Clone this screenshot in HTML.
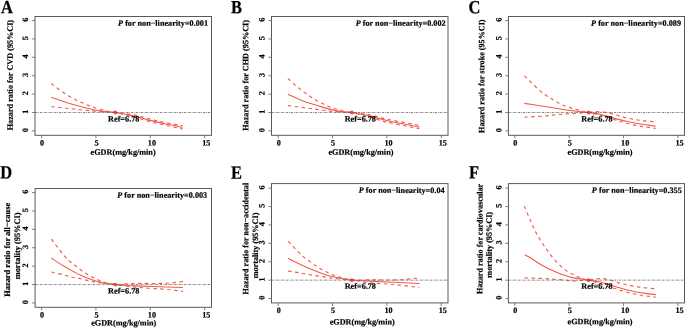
<!DOCTYPE html><html><head><meta charset="utf-8"><style>html,body{margin:0;padding:0;background:#fff}svg{display:block}text{text-rendering:geometricPrecision;font-family:"Liberation Serif", serif;font-weight:bold;fill:#000;stroke:#000;stroke-width:0.2px}</style></head><body>
<svg width="685" height="328" viewBox="0 0 685 328">
<defs><filter id="b" x="0" y="0" width="685" height="328" filterUnits="userSpaceOnUse"><feGaussianBlur stdDeviation="0.3"/></filter></defs>
<rect width="685" height="328" fill="#fff"/>
<g filter="url(#b)">
<g>
<text transform="translate(1.00,13.15) rotate(0.03) scale(0.97,1.095)" font-size="17">A</text>
<path d="M51.30,83.50 C52.75,84.62 56.95,88.05 60.00,90.20 C63.05,92.35 66.93,94.78 69.60,96.40 C72.27,98.02 73.87,98.83 76.00,99.90 C78.13,100.97 80.35,101.88 82.40,102.80 C84.45,103.72 86.25,104.58 88.30,105.40 C90.35,106.22 92.48,106.97 94.70,107.70 C96.92,108.43 99.38,109.20 101.60,109.80 C103.82,110.40 105.72,110.85 108.00,111.30 C110.28,111.75 110.90,111.90 115.30,112.50 C119.70,113.10 128.58,113.80 134.40,114.90 C140.22,116.00 144.93,117.80 150.20,119.10 C155.47,120.40 160.60,121.60 166.00,122.70 C171.40,123.80 179.83,125.20 182.60,125.70" fill="none" stroke="#f05c4c" stroke-width="1.15" stroke-dasharray="3.45 3.45"/>
<path d="M51.30,106.70 C53.88,106.97 63.07,107.92 66.80,108.30 C70.53,108.68 71.40,108.75 73.70,109.00 C76.00,109.25 78.32,109.57 80.60,109.80 C82.88,110.03 85.12,110.18 87.40,110.40 C89.68,110.62 91.53,110.85 94.30,111.10 C97.07,111.35 100.50,111.67 104.00,111.90 C107.50,112.13 110.23,111.63 115.30,112.50 C120.37,113.37 128.58,115.57 134.40,117.10 C140.22,118.63 144.93,120.32 150.20,121.70 C155.47,123.08 160.60,124.20 166.00,125.40 C171.40,126.60 179.83,128.32 182.60,128.90" fill="none" stroke="#f05c4c" stroke-width="1.15" stroke-dasharray="3.45 3.45"/>
<path d="M51.30,97.30 C53.58,98.07 61.20,100.67 65.00,101.90 C68.80,103.13 71.05,103.82 74.10,104.70 C77.15,105.58 80.25,106.40 83.30,107.20 C86.35,108.00 89.35,108.85 92.40,109.50 C95.45,110.15 97.78,110.60 101.60,111.10 C105.42,111.60 109.83,111.68 115.30,112.50 C120.77,113.32 128.58,114.68 134.40,116.00 C140.22,117.32 144.93,119.07 150.20,120.40 C155.47,121.73 160.60,122.85 166.00,124.00 C171.40,125.15 179.83,126.75 182.60,127.30" fill="none" stroke="#f05c4c" stroke-width="1.1"/>
<line x1="35.00" y1="112.50" x2="211.50" y2="112.50" stroke="#555" stroke-width="0.7" stroke-dasharray="2.3 0.9 0.7 0.9"/>
<circle cx="115.30" cy="112.50" r="1.9" fill="#ee2c3a" fill-opacity="0.82"/>
<rect x="35.00" y="16.50" width="176.50" height="118.80" fill="none" stroke="#5a5a5a" stroke-width="1"/>
<line x1="31.90" y1="130.90" x2="35.00" y2="130.90" stroke="#707070" stroke-width="0.9"/>
<text transform="translate(28.00,130.10) rotate(-89.97)" text-anchor="middle" font-size="8.2">0</text>
<line x1="31.90" y1="112.50" x2="35.00" y2="112.50" stroke="#707070" stroke-width="0.9"/>
<text transform="translate(28.00,111.70) rotate(-89.97)" text-anchor="middle" font-size="8.2">1</text>
<line x1="31.90" y1="94.10" x2="35.00" y2="94.10" stroke="#707070" stroke-width="0.9"/>
<text transform="translate(28.00,93.30) rotate(-89.97)" text-anchor="middle" font-size="8.2">2</text>
<line x1="31.90" y1="75.70" x2="35.00" y2="75.70" stroke="#707070" stroke-width="0.9"/>
<text transform="translate(28.00,74.90) rotate(-89.97)" text-anchor="middle" font-size="8.2">3</text>
<line x1="31.90" y1="57.30" x2="35.00" y2="57.30" stroke="#707070" stroke-width="0.9"/>
<text transform="translate(28.00,56.50) rotate(-89.97)" text-anchor="middle" font-size="8.2">4</text>
<line x1="31.90" y1="38.90" x2="35.00" y2="38.90" stroke="#707070" stroke-width="0.9"/>
<text transform="translate(28.00,38.10) rotate(-89.97)" text-anchor="middle" font-size="8.2">5</text>
<line x1="31.90" y1="20.50" x2="35.00" y2="20.50" stroke="#707070" stroke-width="0.9"/>
<text transform="translate(28.00,19.70) rotate(-89.97)" text-anchor="middle" font-size="8.2">6</text>
<line x1="41.60" y1="135.30" x2="41.60" y2="138.40" stroke="#707070" stroke-width="0.9"/>
<text transform="translate(42.10,145.50) rotate(0.03)" text-anchor="middle" font-size="8.2">0</text>
<line x1="95.95" y1="135.30" x2="95.95" y2="138.40" stroke="#707070" stroke-width="0.9"/>
<text transform="translate(96.45,145.50) rotate(0.03)" text-anchor="middle" font-size="8.2">5</text>
<line x1="150.30" y1="135.30" x2="150.30" y2="138.40" stroke="#707070" stroke-width="0.9"/>
<text transform="translate(151.90,145.50) rotate(0.03)" text-anchor="middle" font-size="8.2">10</text>
<line x1="204.65" y1="135.30" x2="204.65" y2="138.40" stroke="#707070" stroke-width="0.9"/>
<text transform="translate(206.25,145.50) rotate(0.03)" text-anchor="middle" font-size="8.2">15</text>
<text transform="translate(123.10,154.80) rotate(0.03)" text-anchor="middle" font-size="8.2">eGDR(mg/kg/min)</text>
<text transform="translate(12.70,75.10) rotate(-89.97)" text-anchor="middle" font-size="8.2">Hazard ratio for CVD (95%CI)</text>
<text transform="translate(208.00,25.80) rotate(0.03)" text-anchor="end" font-size="8.2"><tspan font-style="italic">P</tspan> for non−linearity=0.001</text>
<text transform="translate(108.10,121.50) rotate(0.03)" font-size="8.2">Ref=6.78</text>
</g>
<g>
<text transform="translate(231.10,13.20) rotate(0.03) scale(0.97,1.095)" font-size="17">B</text>
<path d="M287.90,78.40 C288.92,79.35 292.07,82.40 294.00,84.10 C295.93,85.80 297.67,87.13 299.50,88.60 C301.33,90.07 303.17,91.55 305.00,92.90 C306.83,94.25 308.58,95.45 310.50,96.70 C312.42,97.95 314.43,99.23 316.50,100.40 C318.57,101.57 320.77,102.64 322.90,103.70 C325.03,104.76 327.17,105.87 329.30,106.75 C331.43,107.63 333.57,108.34 335.70,109.00 C337.83,109.66 340.12,110.23 342.10,110.70 C344.08,111.17 345.95,111.50 347.60,111.80 C349.25,112.10 348.37,112.02 352.00,112.50 C355.63,112.98 363.45,113.57 369.40,114.70 C375.35,115.83 379.37,117.52 387.70,119.30 C396.03,121.08 414.12,124.38 419.40,125.40" fill="none" stroke="#f05c4c" stroke-width="1.15" stroke-dasharray="3.45 3.45"/>
<path d="M287.90,105.60 C289.28,105.78 293.53,106.35 296.20,106.70 C298.87,107.05 301.52,107.40 303.90,107.70 C306.28,108.00 308.33,108.22 310.50,108.50 C312.67,108.78 314.68,109.12 316.90,109.40 C319.12,109.68 321.52,109.90 323.80,110.20 C326.08,110.50 327.90,110.90 330.60,111.20 C333.30,111.50 336.43,111.78 340.00,112.00 C343.57,112.22 347.10,111.65 352.00,112.50 C356.90,113.35 363.45,115.47 369.40,117.10 C375.35,118.73 379.37,120.37 387.70,122.30 C396.03,124.23 414.12,127.63 419.40,128.70" fill="none" stroke="#f05c4c" stroke-width="1.15" stroke-dasharray="3.45 3.45"/>
<path d="M287.90,94.30 C288.92,94.77 292.07,96.23 294.00,97.10 C295.93,97.97 297.67,98.73 299.50,99.50 C301.33,100.27 303.17,101.03 305.00,101.70 C306.83,102.37 308.28,102.82 310.50,103.50 C312.72,104.18 315.48,104.95 318.30,105.80 C321.12,106.65 324.35,107.75 327.40,108.60 C330.45,109.45 333.85,110.33 336.60,110.90 C339.35,111.47 341.33,111.73 343.90,112.00 C346.47,112.27 347.75,111.85 352.00,112.50 C356.25,113.15 363.45,114.53 369.40,115.90 C375.35,117.27 379.37,118.83 387.70,120.70 C396.03,122.57 414.12,126.03 419.40,127.10" fill="none" stroke="#f05c4c" stroke-width="1.1"/>
<line x1="271.50" y1="112.50" x2="448.00" y2="112.50" stroke="#555" stroke-width="0.7" stroke-dasharray="2.3 0.9 0.7 0.9"/>
<circle cx="351.90" cy="112.50" r="1.9" fill="#ee2c3a" fill-opacity="0.82"/>
<rect x="271.50" y="16.50" width="176.50" height="118.80" fill="none" stroke="#5a5a5a" stroke-width="1"/>
<line x1="268.40" y1="130.90" x2="271.50" y2="130.90" stroke="#707070" stroke-width="0.9"/>
<text transform="translate(264.50,130.10) rotate(-89.97)" text-anchor="middle" font-size="8.2">0</text>
<line x1="268.40" y1="112.50" x2="271.50" y2="112.50" stroke="#707070" stroke-width="0.9"/>
<text transform="translate(264.50,111.70) rotate(-89.97)" text-anchor="middle" font-size="8.2">1</text>
<line x1="268.40" y1="94.10" x2="271.50" y2="94.10" stroke="#707070" stroke-width="0.9"/>
<text transform="translate(264.50,93.30) rotate(-89.97)" text-anchor="middle" font-size="8.2">2</text>
<line x1="268.40" y1="75.70" x2="271.50" y2="75.70" stroke="#707070" stroke-width="0.9"/>
<text transform="translate(264.50,74.90) rotate(-89.97)" text-anchor="middle" font-size="8.2">3</text>
<line x1="268.40" y1="57.30" x2="271.50" y2="57.30" stroke="#707070" stroke-width="0.9"/>
<text transform="translate(264.50,56.50) rotate(-89.97)" text-anchor="middle" font-size="8.2">4</text>
<line x1="268.40" y1="38.90" x2="271.50" y2="38.90" stroke="#707070" stroke-width="0.9"/>
<text transform="translate(264.50,38.10) rotate(-89.97)" text-anchor="middle" font-size="8.2">5</text>
<line x1="268.40" y1="20.50" x2="271.50" y2="20.50" stroke="#707070" stroke-width="0.9"/>
<text transform="translate(264.50,19.70) rotate(-89.97)" text-anchor="middle" font-size="8.2">6</text>
<line x1="278.20" y1="135.30" x2="278.20" y2="138.40" stroke="#707070" stroke-width="0.9"/>
<text transform="translate(278.70,145.50) rotate(0.03)" text-anchor="middle" font-size="8.2">0</text>
<line x1="332.55" y1="135.30" x2="332.55" y2="138.40" stroke="#707070" stroke-width="0.9"/>
<text transform="translate(333.05,145.50) rotate(0.03)" text-anchor="middle" font-size="8.2">5</text>
<line x1="386.90" y1="135.30" x2="386.90" y2="138.40" stroke="#707070" stroke-width="0.9"/>
<text transform="translate(388.50,145.50) rotate(0.03)" text-anchor="middle" font-size="8.2">10</text>
<line x1="441.25" y1="135.30" x2="441.25" y2="138.40" stroke="#707070" stroke-width="0.9"/>
<text transform="translate(442.85,145.50) rotate(0.03)" text-anchor="middle" font-size="8.2">15</text>
<text transform="translate(360.90,154.80) rotate(0.03)" text-anchor="middle" font-size="8.2">eGDR(mg/kg/min)</text>
<text transform="translate(248.30,75.40) rotate(-89.97)" text-anchor="middle" font-size="8.2">Hazard ratio for CHD (95%CI)</text>
<text transform="translate(445.60,25.80) rotate(0.03)" text-anchor="end" font-size="8.2"><tspan font-style="italic">P</tspan> for non−linearity=0.002</text>
<text transform="translate(344.70,121.50) rotate(0.03)" font-size="8.2">Ref=6.78</text>
</g>
<g>
<text transform="translate(468.60,13.20) rotate(0.03) scale(0.97,1.095)" font-size="17">C</text>
<path d="M524.40,75.80 C526.65,78.00 534.32,85.77 537.90,89.00 C541.48,92.23 543.57,93.52 545.90,95.20 C548.23,96.88 549.83,97.82 551.90,99.10 C553.97,100.38 556.17,101.78 558.30,102.90 C560.43,104.02 562.57,104.93 564.70,105.80 C566.83,106.67 568.97,107.43 571.10,108.10 C573.23,108.77 575.30,109.23 577.50,109.80 C579.70,110.37 582.48,111.08 584.30,111.50 C586.12,111.92 586.45,112.28 588.40,112.30 C590.35,112.32 593.30,111.62 596.00,111.60 C598.70,111.58 601.95,111.87 604.60,112.20 C607.25,112.53 609.62,113.03 611.90,113.60 C614.18,114.17 616.02,114.93 618.30,115.60 C620.58,116.27 623.23,117.02 625.60,117.60 C627.97,118.18 630.22,118.67 632.50,119.10 C634.78,119.53 636.93,119.87 639.30,120.20 C641.67,120.53 643.98,120.82 646.70,121.10 C649.42,121.38 654.12,121.77 655.60,121.90" fill="none" stroke="#f05c4c" stroke-width="1.15" stroke-dasharray="3.45 3.45"/>
<path d="M524.40,117.20 C527.83,117.00 540.35,116.35 545.00,116.00 C549.65,115.65 549.87,115.37 552.30,115.10 C554.73,114.83 557.15,114.60 559.60,114.40 C562.05,114.20 564.55,114.05 567.00,113.90 C569.45,113.75 571.87,113.65 574.30,113.50 C576.73,113.35 579.25,113.17 581.60,113.00 C583.95,112.83 586.27,112.35 588.40,112.50 C590.53,112.65 592.63,113.50 594.40,113.90 C596.17,114.30 597.32,114.50 599.00,114.90 C600.68,115.30 601.82,115.47 604.50,116.30 C607.18,117.13 612.18,118.95 615.10,119.90 C618.02,120.85 619.78,121.35 622.00,122.00 C624.22,122.65 626.12,123.23 628.40,123.80 C630.68,124.37 633.27,124.93 635.70,125.40 C638.13,125.87 640.57,126.22 643.00,126.60 C645.43,126.98 648.20,127.40 650.30,127.70 C652.40,128.00 654.72,128.28 655.60,128.40" fill="none" stroke="#f05c4c" stroke-width="1.15" stroke-dasharray="3.45 3.45"/>
<path d="M524.40,103.40 C527.83,103.92 540.05,105.73 545.00,106.50 C549.95,107.27 551.05,107.50 554.10,108.00 C557.15,108.50 560.25,109.03 563.30,109.50 C566.35,109.97 569.35,110.40 572.40,110.80 C575.45,111.20 578.93,111.62 581.60,111.90 C584.27,112.18 585.33,112.12 588.40,112.50 C591.47,112.88 596.55,113.47 600.00,114.20 C603.45,114.93 606.05,116.03 609.10,116.90 C612.15,117.77 615.25,118.63 618.30,119.40 C621.35,120.17 624.35,120.85 627.40,121.50 C630.45,122.15 633.55,122.75 636.60,123.30 C639.65,123.85 642.50,124.30 645.70,124.80 C648.90,125.30 654.12,126.05 655.80,126.30" fill="none" stroke="#f05c4c" stroke-width="1.1"/>
<line x1="508.40" y1="112.50" x2="684.50" y2="112.50" stroke="#555" stroke-width="0.7" stroke-dasharray="2.3 0.9 0.7 0.9"/>
<circle cx="588.55" cy="112.50" r="1.9" fill="#ee2c3a" fill-opacity="0.82"/>
<rect x="508.40" y="16.50" width="176.10" height="118.80" fill="none" stroke="#5a5a5a" stroke-width="1"/>
<line x1="505.30" y1="130.90" x2="508.40" y2="130.90" stroke="#707070" stroke-width="0.9"/>
<text transform="translate(501.40,130.10) rotate(-89.97)" text-anchor="middle" font-size="8.2">0</text>
<line x1="505.30" y1="112.50" x2="508.40" y2="112.50" stroke="#707070" stroke-width="0.9"/>
<text transform="translate(501.40,111.70) rotate(-89.97)" text-anchor="middle" font-size="8.2">1</text>
<line x1="505.30" y1="94.10" x2="508.40" y2="94.10" stroke="#707070" stroke-width="0.9"/>
<text transform="translate(501.40,93.30) rotate(-89.97)" text-anchor="middle" font-size="8.2">2</text>
<line x1="505.30" y1="75.70" x2="508.40" y2="75.70" stroke="#707070" stroke-width="0.9"/>
<text transform="translate(501.40,74.90) rotate(-89.97)" text-anchor="middle" font-size="8.2">3</text>
<line x1="505.30" y1="57.30" x2="508.40" y2="57.30" stroke="#707070" stroke-width="0.9"/>
<text transform="translate(501.40,56.50) rotate(-89.97)" text-anchor="middle" font-size="8.2">4</text>
<line x1="505.30" y1="38.90" x2="508.40" y2="38.90" stroke="#707070" stroke-width="0.9"/>
<text transform="translate(501.40,38.10) rotate(-89.97)" text-anchor="middle" font-size="8.2">5</text>
<line x1="505.30" y1="20.50" x2="508.40" y2="20.50" stroke="#707070" stroke-width="0.9"/>
<text transform="translate(501.40,19.70) rotate(-89.97)" text-anchor="middle" font-size="8.2">6</text>
<line x1="514.85" y1="135.30" x2="514.85" y2="138.40" stroke="#707070" stroke-width="0.9"/>
<text transform="translate(515.35,145.50) rotate(0.03)" text-anchor="middle" font-size="8.2">0</text>
<line x1="569.20" y1="135.30" x2="569.20" y2="138.40" stroke="#707070" stroke-width="0.9"/>
<text transform="translate(569.70,145.50) rotate(0.03)" text-anchor="middle" font-size="8.2">5</text>
<line x1="623.55" y1="135.30" x2="623.55" y2="138.40" stroke="#707070" stroke-width="0.9"/>
<text transform="translate(625.15,145.50) rotate(0.03)" text-anchor="middle" font-size="8.2">10</text>
<line x1="677.90" y1="135.30" x2="677.90" y2="138.40" stroke="#707070" stroke-width="0.9"/>
<text transform="translate(679.50,145.50) rotate(0.03)" text-anchor="middle" font-size="8.2">15</text>
<text transform="translate(600.05,154.80) rotate(0.03)" text-anchor="middle" font-size="8.2">eGDR(mg/kg/min)</text>
<text transform="translate(484.20,76.20) rotate(-89.97)" text-anchor="middle" font-size="8.15">Hazard ratio for stroke (95%CI)</text>
<text transform="translate(681.00,25.80) rotate(0.03)" text-anchor="end" font-size="8.2"><tspan font-style="italic">P</tspan> for non−linearity=0.089</text>
<text transform="translate(581.35,121.50) rotate(0.03)" font-size="8.2">Ref=6.78</text>
</g>
<g>
<text transform="translate(0.20,178.55) rotate(0.03) scale(0.97,1.095)" font-size="17">D</text>
<path d="M51.40,239.10 C53.38,241.70 60.20,250.95 63.30,254.70 C66.40,258.45 67.90,259.72 70.00,261.60 C72.10,263.48 74.03,264.55 75.90,266.00 C77.77,267.45 79.33,268.93 81.20,270.30 C83.07,271.67 85.15,273.02 87.10,274.20 C89.05,275.38 90.87,276.37 92.90,277.40 C94.93,278.43 97.17,279.52 99.30,280.40 C101.43,281.28 103.03,282.01 105.70,282.70 C108.37,283.39 112.08,284.35 115.30,284.55 C118.52,284.75 121.82,284.07 125.00,283.90 C128.18,283.72 131.73,283.60 134.40,283.50 C137.07,283.40 137.53,283.30 141.00,283.30 C144.47,283.30 151.62,283.50 155.20,283.50 C158.78,283.50 160.22,283.38 162.50,283.30 C164.78,283.23 166.62,283.20 168.90,283.05 C171.18,282.90 173.87,282.67 176.20,282.40 C178.53,282.12 181.78,281.57 182.90,281.40" fill="none" stroke="#f05c4c" stroke-width="1.15" stroke-dasharray="3.45 3.45"/>
<path d="M51.40,272.00 C53.38,272.47 59.80,273.93 63.30,274.80 C66.80,275.67 69.35,276.50 72.40,277.20 C75.45,277.90 78.55,278.33 81.60,279.00 C84.65,279.67 87.67,280.57 90.70,281.20 C93.73,281.83 95.70,282.24 99.80,282.80 C103.90,283.36 111.10,283.98 115.30,284.55 C119.50,285.12 121.70,285.77 125.00,286.20 C128.30,286.62 132.20,286.85 135.10,287.10 C138.00,287.35 140.12,287.50 142.40,287.70 C144.68,287.90 146.52,288.14 148.80,288.30 C151.08,288.46 153.82,288.52 156.10,288.65 C158.38,288.78 160.22,288.91 162.50,289.10 C164.78,289.29 167.43,289.55 169.80,289.80 C172.17,290.05 174.52,290.33 176.70,290.60 C178.88,290.87 181.87,291.27 182.90,291.40" fill="none" stroke="#f05c4c" stroke-width="1.15" stroke-dasharray="3.45 3.45"/>
<path d="M51.40,258.30 C53.38,259.55 60.20,263.90 63.30,265.80 C66.40,267.70 67.10,268.12 70.00,269.70 C72.90,271.28 77.15,273.65 80.70,275.30 C84.25,276.95 87.75,278.38 91.30,279.60 C94.85,280.82 98.00,281.78 102.00,282.60 C106.00,283.43 111.47,284.07 115.30,284.55 C119.13,285.03 121.82,285.27 125.00,285.50 C128.18,285.73 129.83,285.73 134.40,285.90 C138.97,286.07 144.32,286.23 152.40,286.50 C160.48,286.77 177.82,287.33 182.90,287.50" fill="none" stroke="#f05c4c" stroke-width="1.1"/>
<line x1="35.10" y1="284.55" x2="211.50" y2="284.55" stroke="#555" stroke-width="0.7" stroke-dasharray="2.3 0.9 0.7 0.9"/>
<circle cx="115.30" cy="284.55" r="1.9" fill="#ee2c3a" fill-opacity="0.82"/>
<rect x="35.10" y="188.50" width="176.40" height="118.80" fill="none" stroke="#5a5a5a" stroke-width="1"/>
<line x1="32.00" y1="302.95" x2="35.10" y2="302.95" stroke="#707070" stroke-width="0.9"/>
<text transform="translate(28.10,302.15) rotate(-89.97)" text-anchor="middle" font-size="8.2">0</text>
<line x1="32.00" y1="284.55" x2="35.10" y2="284.55" stroke="#707070" stroke-width="0.9"/>
<text transform="translate(28.10,283.75) rotate(-89.97)" text-anchor="middle" font-size="8.2">1</text>
<line x1="32.00" y1="266.15" x2="35.10" y2="266.15" stroke="#707070" stroke-width="0.9"/>
<text transform="translate(28.10,265.35) rotate(-89.97)" text-anchor="middle" font-size="8.2">2</text>
<line x1="32.00" y1="247.75" x2="35.10" y2="247.75" stroke="#707070" stroke-width="0.9"/>
<text transform="translate(28.10,246.95) rotate(-89.97)" text-anchor="middle" font-size="8.2">3</text>
<line x1="32.00" y1="229.35" x2="35.10" y2="229.35" stroke="#707070" stroke-width="0.9"/>
<text transform="translate(28.10,228.55) rotate(-89.97)" text-anchor="middle" font-size="8.2">4</text>
<line x1="32.00" y1="210.95" x2="35.10" y2="210.95" stroke="#707070" stroke-width="0.9"/>
<text transform="translate(28.10,210.15) rotate(-89.97)" text-anchor="middle" font-size="8.2">5</text>
<line x1="32.00" y1="192.55" x2="35.10" y2="192.55" stroke="#707070" stroke-width="0.9"/>
<text transform="translate(28.10,191.75) rotate(-89.97)" text-anchor="middle" font-size="8.2">6</text>
<line x1="41.60" y1="307.30" x2="41.60" y2="310.40" stroke="#707070" stroke-width="0.9"/>
<text transform="translate(42.10,317.50) rotate(0.03)" text-anchor="middle" font-size="8.2">0</text>
<line x1="95.95" y1="307.30" x2="95.95" y2="310.40" stroke="#707070" stroke-width="0.9"/>
<text transform="translate(96.45,317.50) rotate(0.03)" text-anchor="middle" font-size="8.2">5</text>
<line x1="150.30" y1="307.30" x2="150.30" y2="310.40" stroke="#707070" stroke-width="0.9"/>
<text transform="translate(151.90,317.50) rotate(0.03)" text-anchor="middle" font-size="8.2">10</text>
<line x1="204.65" y1="307.30" x2="204.65" y2="310.40" stroke="#707070" stroke-width="0.9"/>
<text transform="translate(206.25,317.50) rotate(0.03)" text-anchor="middle" font-size="8.2">15</text>
<text transform="translate(123.70,325.40) rotate(0.03)" text-anchor="middle" font-size="8.2">eGDR(mg/kg/min)</text>
<text transform="translate(10.00,249.80) rotate(-89.97)" text-anchor="middle" font-size="8.35">Hazard ratio for all−cause</text>
<text transform="translate(20.00,245.90) rotate(-89.97)" text-anchor="middle" font-size="8.3">mortality (95%CI)</text>
<text transform="translate(207.20,197.80) rotate(0.03)" text-anchor="end" font-size="8.2"><tspan font-style="italic">P</tspan> for non−linearity=0.003</text>
<text transform="translate(108.10,293.55) rotate(0.03)" font-size="8.2">Ref=6.78</text>
</g>
<g>
<text transform="translate(230.90,178.65) rotate(0.03) scale(0.97,1.095)" font-size="17">E</text>
<path d="M288.20,241.30 C289.88,243.07 295.80,249.35 298.30,251.90 C300.80,254.45 301.40,255.08 303.20,256.60 C305.00,258.12 307.15,259.57 309.10,261.00 C311.05,262.43 312.95,263.88 314.90,265.20 C316.85,266.52 318.83,267.75 320.80,268.90 C322.77,270.05 324.65,271.08 326.70,272.10 C328.75,273.12 330.97,274.17 333.10,275.00 C335.23,275.83 337.37,276.48 339.50,277.10 C341.63,277.72 343.82,278.20 345.90,278.70 C347.98,279.20 348.08,279.92 352.00,280.10 C355.92,280.28 363.90,279.82 369.40,279.80 C374.90,279.78 379.90,280.00 385.00,280.00 C390.10,280.00 395.90,279.98 400.00,279.80 C404.10,279.62 406.37,279.20 409.60,278.90 C412.83,278.60 417.77,278.15 419.40,278.00" fill="none" stroke="#f05c4c" stroke-width="1.15" stroke-dasharray="3.45 3.45"/>
<path d="M288.20,271.10 C289.88,271.35 295.80,272.20 298.30,272.60 C300.80,273.00 301.23,273.13 303.20,273.50 C305.17,273.87 307.78,274.40 310.10,274.80 C312.42,275.20 314.78,275.55 317.10,275.90 C319.42,276.25 321.68,276.55 324.00,276.90 C326.32,277.25 328.77,277.68 331.00,278.00 C333.23,278.32 335.07,278.53 337.40,278.80 C339.73,279.07 342.57,279.40 345.00,279.60 C347.43,279.80 347.93,279.48 352.00,280.00 C356.07,280.52 362.43,281.95 369.40,282.70 C376.37,283.45 385.47,283.70 393.80,284.50 C402.13,285.30 415.13,287.00 419.40,287.50" fill="none" stroke="#f05c4c" stroke-width="1.15" stroke-dasharray="3.45 3.45"/>
<path d="M288.20,258.30 C289.88,259.17 294.55,261.70 298.30,263.50 C302.05,265.30 306.87,267.48 310.70,269.10 C314.53,270.72 317.75,271.97 321.30,273.20 C324.85,274.43 328.43,275.58 332.00,276.50 C335.57,277.42 339.37,278.12 342.70,278.70 C346.03,279.28 347.55,279.60 352.00,280.00 C356.45,280.40 362.43,280.72 369.40,281.10 C376.37,281.48 385.47,281.90 393.80,282.30 C402.13,282.70 415.13,283.30 419.40,283.50" fill="none" stroke="#f05c4c" stroke-width="1.1"/>
<line x1="271.50" y1="280.15" x2="448.00" y2="280.15" stroke="#555" stroke-width="0.7" stroke-dasharray="2.3 0.9 0.7 0.9"/>
<circle cx="351.90" cy="280.15" r="1.9" fill="#ee2c3a" fill-opacity="0.82"/>
<rect x="271.50" y="183.60" width="176.50" height="119.30" fill="none" stroke="#5a5a5a" stroke-width="1"/>
<line x1="268.40" y1="298.55" x2="271.50" y2="298.55" stroke="#707070" stroke-width="0.9"/>
<text transform="translate(264.50,297.75) rotate(-89.97)" text-anchor="middle" font-size="8.2">0</text>
<line x1="268.40" y1="280.15" x2="271.50" y2="280.15" stroke="#707070" stroke-width="0.9"/>
<text transform="translate(264.50,279.35) rotate(-89.97)" text-anchor="middle" font-size="8.2">1</text>
<line x1="268.40" y1="261.75" x2="271.50" y2="261.75" stroke="#707070" stroke-width="0.9"/>
<text transform="translate(264.50,260.95) rotate(-89.97)" text-anchor="middle" font-size="8.2">2</text>
<line x1="268.40" y1="243.35" x2="271.50" y2="243.35" stroke="#707070" stroke-width="0.9"/>
<text transform="translate(264.50,242.55) rotate(-89.97)" text-anchor="middle" font-size="8.2">3</text>
<line x1="268.40" y1="224.95" x2="271.50" y2="224.95" stroke="#707070" stroke-width="0.9"/>
<text transform="translate(264.50,224.15) rotate(-89.97)" text-anchor="middle" font-size="8.2">4</text>
<line x1="268.40" y1="206.55" x2="271.50" y2="206.55" stroke="#707070" stroke-width="0.9"/>
<text transform="translate(264.50,205.75) rotate(-89.97)" text-anchor="middle" font-size="8.2">5</text>
<line x1="268.40" y1="188.15" x2="271.50" y2="188.15" stroke="#707070" stroke-width="0.9"/>
<text transform="translate(264.50,187.35) rotate(-89.97)" text-anchor="middle" font-size="8.2">6</text>
<line x1="278.20" y1="302.90" x2="278.20" y2="306.00" stroke="#707070" stroke-width="0.9"/>
<text transform="translate(278.70,313.10) rotate(0.03)" text-anchor="middle" font-size="8.2">0</text>
<line x1="332.55" y1="302.90" x2="332.55" y2="306.00" stroke="#707070" stroke-width="0.9"/>
<text transform="translate(333.05,313.10) rotate(0.03)" text-anchor="middle" font-size="8.2">5</text>
<line x1="386.90" y1="302.90" x2="386.90" y2="306.00" stroke="#707070" stroke-width="0.9"/>
<text transform="translate(388.50,313.10) rotate(0.03)" text-anchor="middle" font-size="8.2">10</text>
<line x1="441.25" y1="302.90" x2="441.25" y2="306.00" stroke="#707070" stroke-width="0.9"/>
<text transform="translate(442.85,313.10) rotate(0.03)" text-anchor="middle" font-size="8.2">15</text>
<text transform="translate(362.20,324.40) rotate(0.03)" text-anchor="middle" font-size="8.2">eGDR(mg/kg/min)</text>
<text transform="translate(248.20,238.70) rotate(-89.97)" text-anchor="middle" font-size="8.1">Hazard ratio for non−accidental</text>
<text transform="translate(258.00,245.50) rotate(-89.97)" text-anchor="middle" font-size="8.2">mortality (95%CI)</text>
<text transform="translate(444.60,192.90) rotate(0.03)" text-anchor="end" font-size="8.2"><tspan font-style="italic">P</tspan> for non−linearity=0.04</text>
<text transform="translate(344.70,288.85) rotate(0.03)" font-size="8.2">Ref=6.78</text>
</g>
<g>
<text transform="translate(469.00,178.55) rotate(0.03) scale(0.97,1.095)" font-size="17">F</text>
<path d="M524.40,206.00 C525.37,208.35 528.22,215.58 530.20,220.10 C532.18,224.62 534.13,229.03 536.30,233.10 C538.47,237.17 541.15,241.30 543.20,244.50 C545.25,247.70 546.32,249.33 548.60,252.30 C550.88,255.27 554.12,259.37 556.90,262.30 C559.68,265.23 562.50,267.82 565.30,269.90 C568.10,271.98 570.90,273.37 573.70,274.80 C576.50,276.23 579.65,277.62 582.10,278.50 C584.55,279.38 586.25,280.03 588.40,280.10 C590.55,280.17 592.92,279.15 595.00,278.90 C597.08,278.65 599.00,278.57 600.90,278.60 C602.80,278.63 604.27,278.68 606.40,279.10 C608.53,279.52 611.42,280.42 613.70,281.10 C615.98,281.78 617.88,282.57 620.10,283.20 C622.32,283.83 624.70,284.38 627.00,284.90 C629.30,285.42 631.62,285.92 633.90,286.30 C636.18,286.68 638.42,286.92 640.70,287.20 C642.98,287.48 645.07,287.75 647.60,288.00 C650.13,288.25 654.52,288.58 655.90,288.70" fill="none" stroke="#f05c4c" stroke-width="1.15" stroke-dasharray="3.45 3.45"/>
<path d="M524.70,277.90 C527.82,278.00 538.35,278.27 543.40,278.50 C548.45,278.73 551.12,279.00 555.00,279.30 C558.88,279.60 563.20,280.02 566.70,280.30 C570.20,280.58 572.38,281.03 576.00,281.00 C579.62,280.97 584.90,279.78 588.40,280.10 C591.90,280.42 594.33,281.98 597.00,282.90 C599.67,283.82 601.47,284.67 604.40,285.60 C607.33,286.53 611.67,287.63 614.60,288.50 C617.53,289.37 619.63,290.12 622.00,290.80 C624.37,291.48 626.52,292.03 628.80,292.60 C631.08,293.17 633.42,293.72 635.70,294.20 C637.98,294.68 640.22,295.13 642.50,295.50 C644.78,295.87 647.17,296.12 649.40,296.40 C651.63,296.68 654.82,297.07 655.90,297.20" fill="none" stroke="#f05c4c" stroke-width="1.15" stroke-dasharray="3.45 3.45"/>
<path d="M524.70,254.80 C525.88,255.47 529.22,257.22 531.80,258.80 C534.38,260.38 537.40,262.63 540.20,264.30 C543.00,265.97 545.82,267.45 548.60,268.80 C551.38,270.15 554.12,271.27 556.90,272.40 C559.68,273.53 562.50,274.68 565.30,275.60 C568.10,276.52 569.85,277.15 573.70,277.90 C577.55,278.65 584.02,279.42 588.40,280.10 C592.78,280.78 596.55,281.23 600.00,282.00 C603.45,282.77 606.05,283.78 609.10,284.70 C612.15,285.62 615.25,286.62 618.30,287.50 C621.35,288.38 624.35,289.25 627.40,290.00 C630.45,290.75 633.55,291.43 636.60,292.00 C639.65,292.57 642.48,292.97 645.70,293.40 C648.92,293.83 654.20,294.40 655.90,294.60" fill="none" stroke="#f05c4c" stroke-width="1.1"/>
<line x1="508.40" y1="280.15" x2="684.50" y2="280.15" stroke="#555" stroke-width="0.7" stroke-dasharray="2.3 0.9 0.7 0.9"/>
<circle cx="588.55" cy="280.15" r="1.9" fill="#ee2c3a" fill-opacity="0.82"/>
<rect x="508.40" y="183.60" width="176.10" height="119.30" fill="none" stroke="#5a5a5a" stroke-width="1"/>
<line x1="505.30" y1="298.55" x2="508.40" y2="298.55" stroke="#707070" stroke-width="0.9"/>
<text transform="translate(501.40,297.75) rotate(-89.97)" text-anchor="middle" font-size="8.2">0</text>
<line x1="505.30" y1="280.15" x2="508.40" y2="280.15" stroke="#707070" stroke-width="0.9"/>
<text transform="translate(501.40,279.35) rotate(-89.97)" text-anchor="middle" font-size="8.2">1</text>
<line x1="505.30" y1="261.75" x2="508.40" y2="261.75" stroke="#707070" stroke-width="0.9"/>
<text transform="translate(501.40,260.95) rotate(-89.97)" text-anchor="middle" font-size="8.2">2</text>
<line x1="505.30" y1="243.35" x2="508.40" y2="243.35" stroke="#707070" stroke-width="0.9"/>
<text transform="translate(501.40,242.55) rotate(-89.97)" text-anchor="middle" font-size="8.2">3</text>
<line x1="505.30" y1="224.95" x2="508.40" y2="224.95" stroke="#707070" stroke-width="0.9"/>
<text transform="translate(501.40,224.15) rotate(-89.97)" text-anchor="middle" font-size="8.2">4</text>
<line x1="505.30" y1="206.55" x2="508.40" y2="206.55" stroke="#707070" stroke-width="0.9"/>
<text transform="translate(501.40,205.75) rotate(-89.97)" text-anchor="middle" font-size="8.2">5</text>
<line x1="505.30" y1="188.15" x2="508.40" y2="188.15" stroke="#707070" stroke-width="0.9"/>
<text transform="translate(501.40,187.35) rotate(-89.97)" text-anchor="middle" font-size="8.2">6</text>
<line x1="514.85" y1="302.90" x2="514.85" y2="306.00" stroke="#707070" stroke-width="0.9"/>
<text transform="translate(515.35,313.10) rotate(0.03)" text-anchor="middle" font-size="8.2">0</text>
<line x1="569.20" y1="302.90" x2="569.20" y2="306.00" stroke="#707070" stroke-width="0.9"/>
<text transform="translate(569.70,313.10) rotate(0.03)" text-anchor="middle" font-size="8.2">5</text>
<line x1="623.55" y1="302.90" x2="623.55" y2="306.00" stroke="#707070" stroke-width="0.9"/>
<text transform="translate(625.15,313.10) rotate(0.03)" text-anchor="middle" font-size="8.2">10</text>
<line x1="677.90" y1="302.90" x2="677.90" y2="306.00" stroke="#707070" stroke-width="0.9"/>
<text transform="translate(679.50,313.10) rotate(0.03)" text-anchor="middle" font-size="8.2">15</text>
<text transform="translate(600.05,324.30) rotate(0.03)" text-anchor="middle" font-size="8.2">eGDR(mg/kg/min)</text>
<text transform="translate(482.40,239.00) rotate(-89.97)" text-anchor="middle" font-size="8.1">Hazard ratio for cardiovascular</text>
<text transform="translate(491.80,244.80) rotate(-89.97)" text-anchor="middle" font-size="8.2">mortality (95%CI)</text>
<text transform="translate(681.80,192.90) rotate(0.03)" text-anchor="end" font-size="8.2"><tspan font-style="italic">P</tspan> for non−linearity=0.355</text>
<text transform="translate(581.35,288.85) rotate(0.03)" font-size="8.2">Ref=6.78</text>
</g>
</g></svg></body></html>
